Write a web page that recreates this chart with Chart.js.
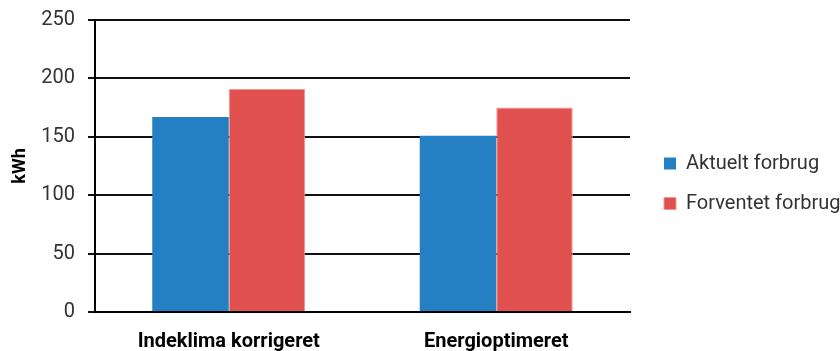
<!DOCTYPE html>
<html>
<head>
<meta charset="utf-8">
<script src="https://cdn.jsdelivr.net/npm/chart.js@4"></script>
<style>
  html, body { margin: 0; padding: 0; background: #fff; }
  #wrap { width: 840px; height: 351px; position: relative; }
</style>
</head>
<body>
<div id="wrap"><canvas id="myChart"></canvas></div>
<script>
const categories = ['Indeklima korrigeret', 'Energioptimeret'];
const aktuelt = [167, 151];
const forventet = [191, 175];
const yTicks = [0, 50, 100, 150, 200, 250];

document.addEventListener('DOMContentLoaded', () => {
    const ctx = document.getElementById('myChart').getContext('2d');

    new Chart(ctx, {
        type: 'bar',
        data: {
            labels: categories,
            datasets: [{
                label: 'Aktuelt forbrug',
                data: aktuelt,
                backgroundColor: '#2580c3',
                borderWidth: 0,
                categoryPercentage: 0.572,
                barPercentage: 1.0
            }, {
                label: 'Forventet forbrug',
                data: forventet,
                backgroundColor: '#df504e',
                borderColor: '#f09896',
                borderWidth: 1,
                categoryPercentage: 0.572,
                barPercentage: 1.0
            }]
        },
        options: {
            responsive: true,
            maintainAspectRatio: false,
            animation: false,
            layout: { padding: { top: 16, right: 0, bottom: 0, left: 0 } },
            plugins: {
                tooltip: { enabled: false },
                legend: {
                    position: 'right',
                    align: 'center',
                    maxWidth: 196,
                    labels: {
                        boxWidth: 12,
                        boxHeight: 12,
                        padding: 20,
                        color: '#333',
                        font: { family: 'Roboto', size: 20 }
                    }
                }
            },
            scales: {
                x: {
                    afterFit: (scale) => { scale.height = 39; },
                    grid: { display: false, drawTicks: false },
                    border: { color: '#000', width: 2 },
                    ticks: {
                        color: '#000',
                        padding: 18,
                        font: { family: 'Roboto', size: 20, weight: 'bold' }
                    }
                },
                y: {
                    min: yTicks[0],
                    max: yTicks[yTicks.length - 1],
                    afterBuildTicks: (scale) => {
                        scale.ticks = yTicks.map(v => ({ value: v }));
                    },
                    afterFit: (scale) => {
                        scale.width = 95;
                        scale.paddingTop = 20;
                        scale.paddingBottom = 0;
                    },
                    grid: { color: '#111', lineWidth: 2, tickLength: 7 },
                    border: { color: '#000', width: 2 },
                    ticks: {
                        color: '#333',
                        padding: 13,
                        font: { family: 'Roboto', size: 20 }
                    },
                    title: {
                        display: true,
                        text: 'kWh',
                        color: '#000',
                        padding: { top: 10, bottom: 0 },
                        font: { family: 'Roboto', size: 18, weight: 'bold' }
                    }
                },
                spacer: {
                    type: 'linear',
                    position: 'right',
                    afterFit: (scale) => { scale.width = 14; },
                    grid: { drawOnChartArea: false, drawTicks: false },
                    border: { display: false },
                    ticks: { display: false }
                }
            }
        }
    });
});
</script>
</body>
</html>
